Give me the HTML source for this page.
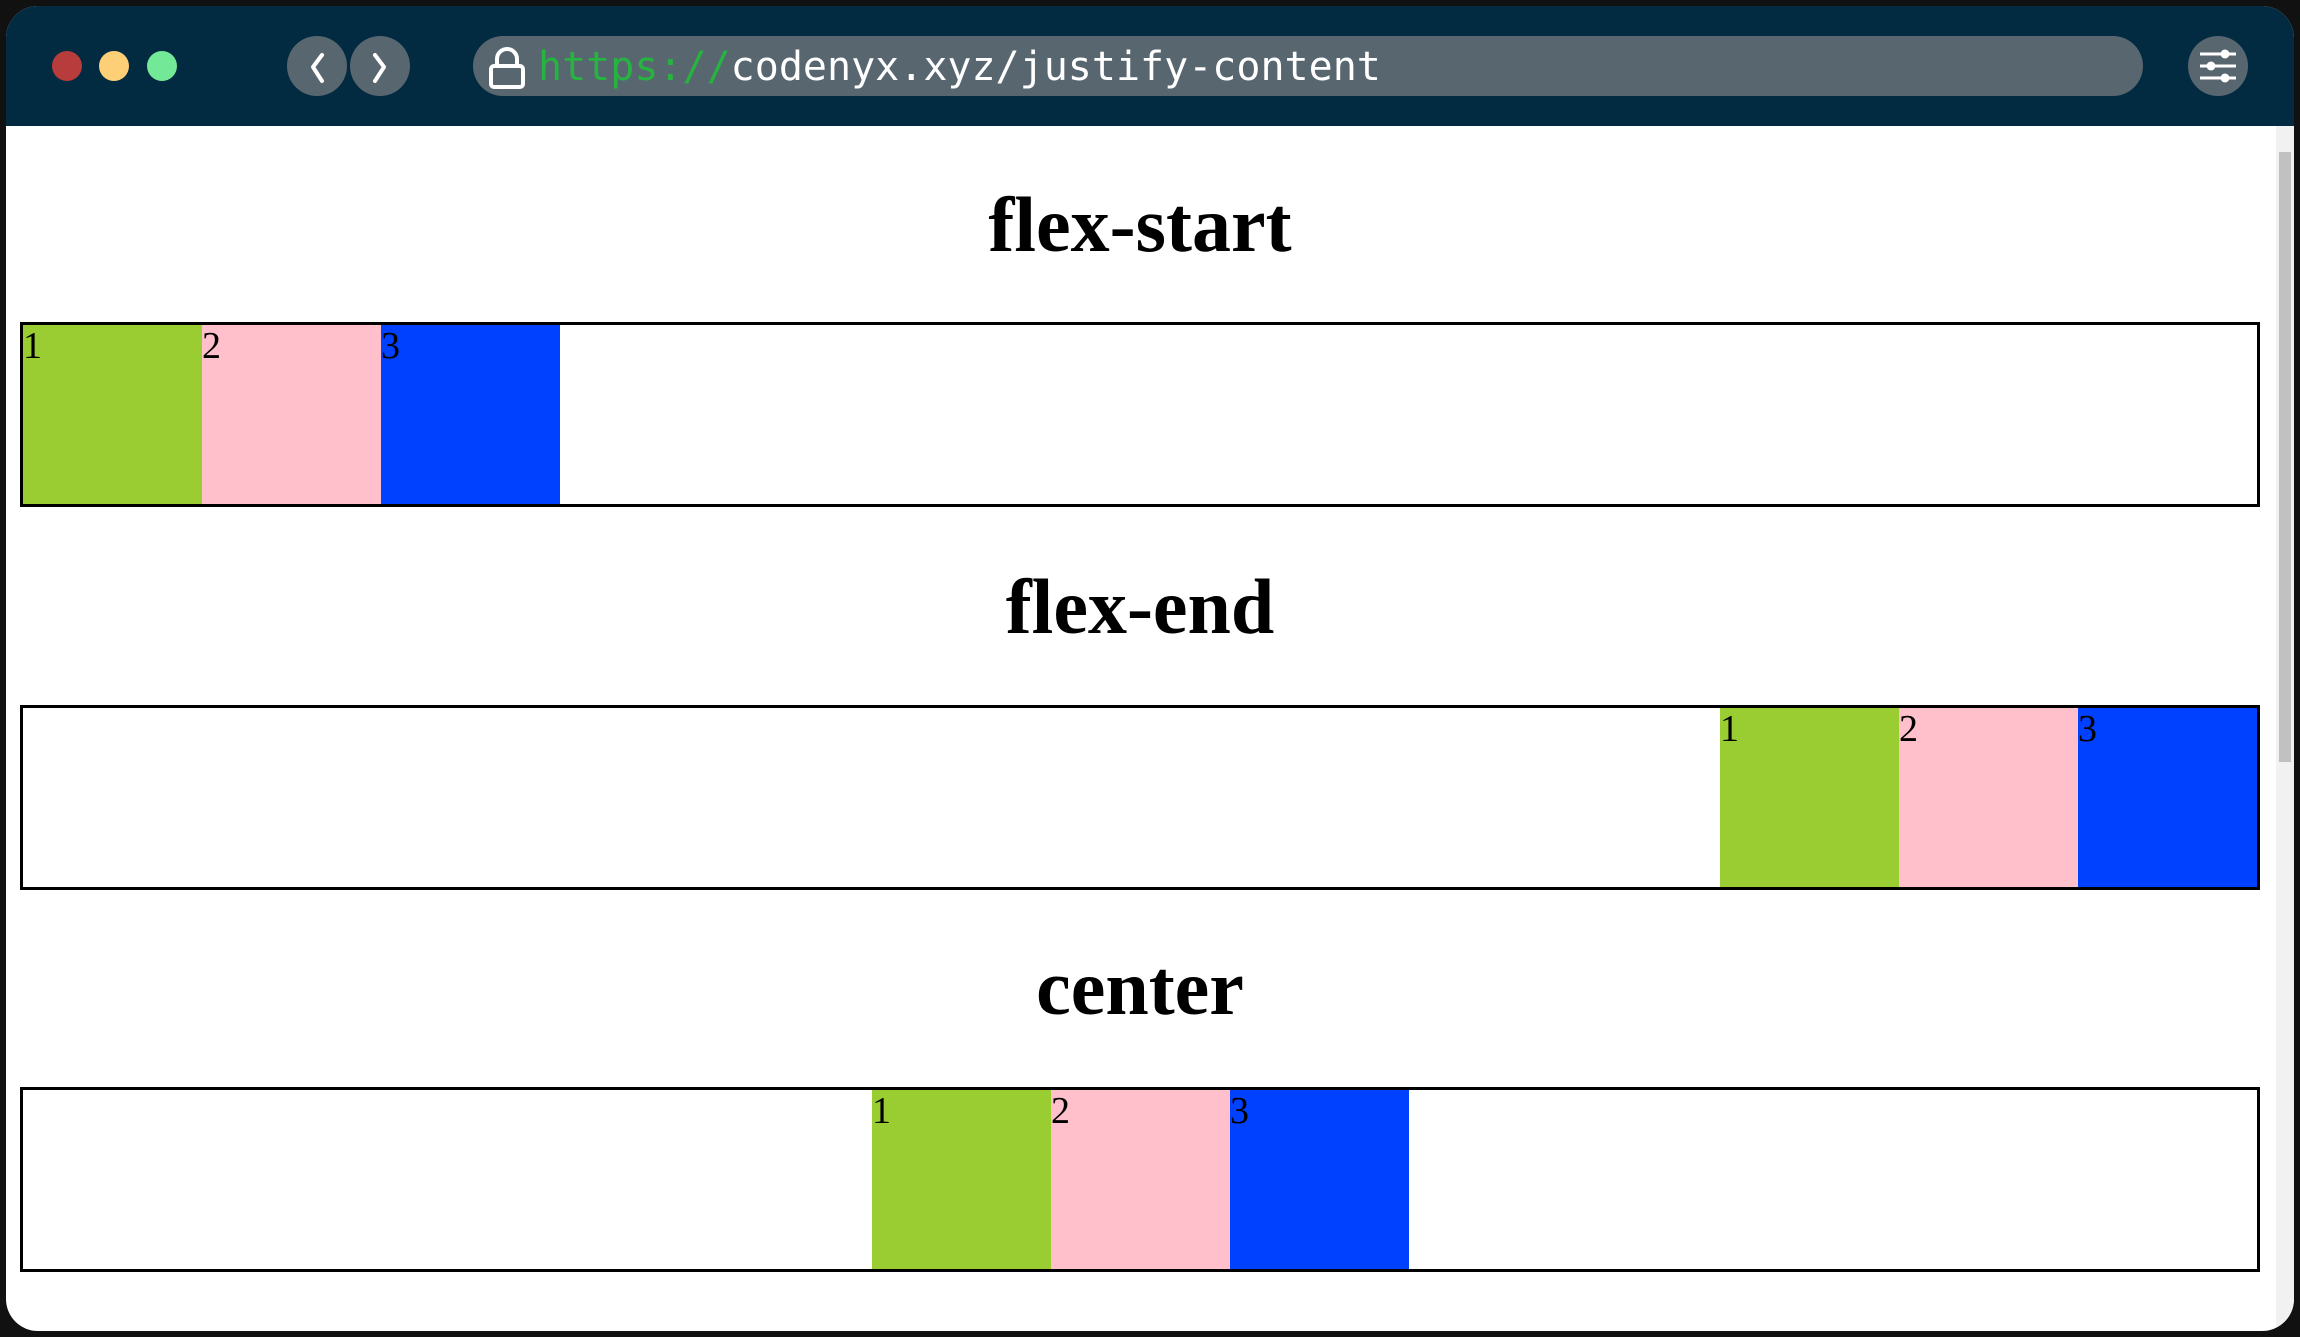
<!DOCTYPE html>
<html><head><meta charset="utf-8"><style>
*{margin:0;padding:0;box-sizing:border-box}
body{width:2300px;height:1337px;background:#111;position:relative;overflow:hidden;font-family:"Liberation Serif",serif}
.win{position:absolute;left:6px;top:6px;width:2288px;height:1325px;background:#fff;border-radius:32px;overflow:hidden}
.hdr{position:absolute;left:0;top:0;width:100%;height:120px;background:#022a40}
.dot{position:absolute;top:45px;width:30px;height:30px;border-radius:50%}
.nav{position:absolute;top:30px;width:60px;height:60px;border-radius:50%;background:#586670}
.url{position:absolute;left:467px;top:30px;width:1670px;height:60px;border-radius:30px;background:#586670}
.urltxt{position:absolute;left:532px;top:37px;font-family:"DejaVu Sans Mono","Liberation Mono",monospace;font-size:40px;line-height:48px;color:#fff;white-space:nowrap}
.set{position:absolute;left:2182px;top:30px;width:60px;height:60px;border-radius:50%;background:#586670}
h1{position:absolute;left:0;width:2268px;text-align:center;font-family:"Liberation Serif",serif;font-weight:bold;font-size:78px;line-height:78px}
.box{position:absolute;left:14px;width:2240px;height:185px;border:3px solid #000}
.it{position:absolute;top:0;width:179px;height:179px;font-size:38px;line-height:42px;color:#000}
.g{background:#9acd32}.p{background:#ffc0cb}.b{background:#0040ff}
.sb{position:absolute;left:2270px;top:120px;width:18px;height:1205px;background:#f1f1f1}
.th{position:absolute;left:2273px;top:146px;width:12px;height:610px;background:#c1c1c1}
</style></head><body>
<div class="win">
 <div class="hdr">
  <div class="dot" style="left:46px;background:#b83c3c"></div>
  <div class="dot" style="left:93px;background:#fdd077"></div>
  <div class="dot" style="left:141px;background:#73e897"></div>
  <div class="nav" style="left:281px"><svg width="60" height="60"><polyline points="35,19 26,31 35,45" fill="none" stroke="#fff" stroke-width="4" stroke-linecap="round" stroke-linejoin="round"/></svg></div>
  <div class="nav" style="left:344px"><svg width="60" height="60"><polyline points="25,19 34,31 25,45" fill="none" stroke="#fff" stroke-width="4" stroke-linecap="round" stroke-linejoin="round"/></svg></div>
  <div class="url"></div>
  <svg style="position:absolute;left:479px;top:40px" width="44" height="44"><path d="M12,20 V13 a10,10 0 0 1 20,0 V20" fill="none" stroke="#fff" stroke-width="4"/><rect x="6" y="20" width="32" height="21" rx="3" fill="none" stroke="#fff" stroke-width="4"/></svg>
  <div class="urltxt"><span style="color:#26b33f">https://</span>codenyx.xyz/justify-content</div>
  <div class="set"><svg width="60" height="60"><g stroke="#fff" stroke-width="3"><line x1="12" y1="18" x2="48" y2="18"/><line x1="12" y1="30" x2="48" y2="30"/><line x1="12" y1="42" x2="48" y2="42"/></g><g fill="#fff"><circle cx="37" cy="18" r="4.5"/><circle cx="23" cy="30" r="4.5"/><circle cx="37" cy="42" r="4.5"/></g></svg></div>
 </div>
 <div class="sb"></div><div class="th"></div>
 <h1 style="top:180px">flex-start</h1>
 <div class="box" style="top:316px">
  <div class="it g" style="left:0">1</div><div class="it p" style="left:179px">2</div><div class="it b" style="left:358px">3</div>
 </div>
 <h1 style="top:562px">flex-end</h1>
 <div class="box" style="top:699px">
  <div class="it g" style="left:1697px">1</div><div class="it p" style="left:1876px">2</div><div class="it b" style="left:2055px">3</div>
 </div>
 <h1 style="top:943px">center</h1>
 <div class="box" style="top:1081px">
  <div class="it g" style="left:849px">1</div><div class="it p" style="left:1028px">2</div><div class="it b" style="left:1207px">3</div>
 </div>
</div>
</body></html>
